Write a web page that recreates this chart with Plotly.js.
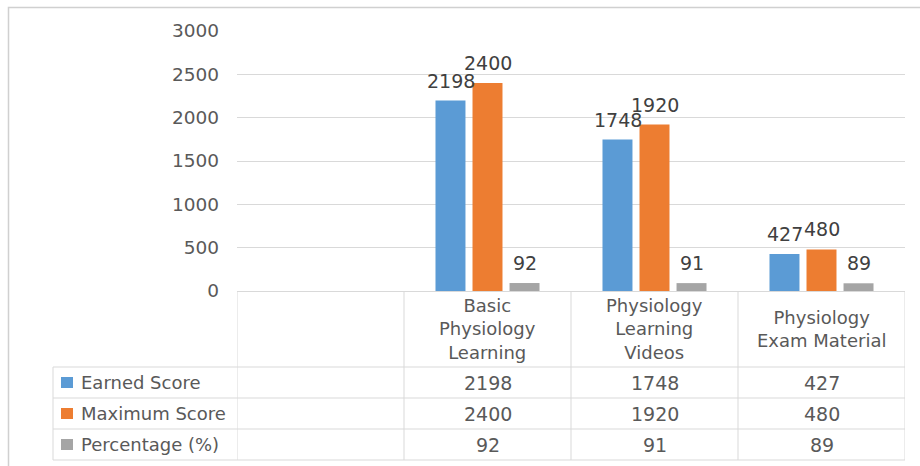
<!DOCTYPE html>
<html>
<head>
<meta charset="utf-8">
<script src="https://cdn.plot.ly/plotly-3.0.1.min.js"></script>
<style>html,body{margin:0;padding:0;background:#fff;}#chart{width:920px;height:466px;}</style>
</head>
<body>
<div id="chart"></div>
<script>
const categories = ["Basic Physiology Learning", "Physiology Learning Videos", "Physiology Exam Material"];
const categoryLabels = ["Basic<br>Physiology<br>Learning", "Physiology<br>Learning<br>Videos", "Physiology<br>Exam Material"];
const seriesNames = ["Earned Score", "Maximum Score", "Percentage (%)"];
const earned = [2198, 1748, 427];
const maximum = [2400, 1920, 480];
const percentage = [92, 91, 89];
const yTicks = [0, 500, 1000, 1500, 2000, 2500, 3000];

const seriesValues = [earned, maximum, percentage];
const colors = ["#5B9BD5", "#ED7D31", "#A5A5A5"];

// plot geometry (pixels)
const W = 920, H = 466;
const L = 237, R = 905, T = 31, B = 291;
const pw = R - L, ph = B - T;
const px = x => (x - L) / pw;
const py = y => (B - y) / ph;

const FONT = "DejaVu Sans";
const TXT = "#595959";
const LINE = "#d9d9d9";

const traces = seriesNames.map((name, i) => ({
  type: "bar",
  name: name,
  x: categories,
  y: seriesValues[i],
  marker: {color: colors[i]},
  hoverinfo: "skip"
}));

const annotations = [];
const shapes = [];
const offsets = [-37, 0, 37];

// data labels
seriesValues.forEach((vals, i) => {
  vals.forEach((v, j) => {
    annotations.push({
      x: categories[j], y: v, xref: "x", yref: "y",
      text: String(v), showarrow: false,
      xanchor: "center", yanchor: "middle",
      xshift: offsets[i], yshift: 20,
      font: {family: FONT, size: 19, color: "#404040"}
    });
  });
});

// category labels row
categories.forEach((c, j) => {
  annotations.push({
    x: c, y: py(329), xref: "x", yref: "paper",
    text: categoryLabels[j], showarrow: false,
    xanchor: "center", yanchor: "middle", align: "center",
    font: {family: FONT, size: 18, color: TXT}
  });
});

// table rows
const rowCenters = [382.5, 413.5, 444.5];
seriesNames.forEach((name, i) => {
  annotations.push({
    x: px(79), y: py(rowCenters[i]), xref: "paper", yref: "paper",
    text: name, showarrow: false, xanchor: "left", yanchor: "middle",
    font: {family: FONT, size: 18, color: TXT}
  });
  shapes.push({
    type: "rect", xref: "paper", yref: "paper",
    x0: px(61), x1: px(73), y0: py(rowCenters[i] - 5.5), y1: py(rowCenters[i] + 5.5),
    fillcolor: colors[i], line: {width: 0}
  });
  seriesValues[i].forEach((v, j) => {
    annotations.push({
      x: categories[j], y: py(rowCenters[i]), xref: "x", yref: "paper",
      text: String(v), showarrow: false, xanchor: "center", yanchor: "middle",
      font: {family: FONT, size: 19, color: TXT}
    });
  });
});

// table lines
[367, 398, 429, 460].forEach(yy => {
  shapes.push({type: "line", xref: "paper", yref: "paper",
    x0: px(53), x1: px(905), y0: py(yy), y1: py(yy), line: {color: LINE, width: 1}});
});
shapes.push({type: "line", xref: "paper", yref: "paper",
  x0: px(53), x1: px(53), y0: py(367), y1: py(460), line: {color: LINE, width: 1}});
[-1.5, -0.5, 0.5, 1.5, 2.5].forEach(b => {
  shapes.push({type: "line", xref: "x", yref: "paper",
    x0: b, x1: b, y0: 0, y1: py(460), line: {color: LINE, width: 1}});
});
// outer frame (top & left visible)
shapes.push({type: "path", xref: "paper", yref: "paper",
  path: `M ${px(8.5)} ${py(470)} L ${px(8.5)} ${py(7.5)} L ${px(925)} ${py(7.5)}`,
  line: {color: "#d0d0d0", width: 1.5}});

const layout = {
  width: W, height: H,
  margin: {l: L, r: W - R, t: T, b: H - B, pad: 0},
  paper_bgcolor: "#ffffff", plot_bgcolor: "#ffffff",
  showlegend: false, hovermode: false,
  barmode: "group", bargap: 0.335, bargroupgap: 0.19,
  xaxis: {
    type: "category", range: [-1.5, 2.5], fixedrange: true,
    showticklabels: false, ticks: "", showgrid: false, zeroline: false,
    showline: true, linecolor: LINE, linewidth: 1
  },
  yaxis: {
    range: [0, 3000], tickvals: yTicks, ticktext: yTicks.map(String), fixedrange: true,
    showgrid: true, gridcolor: LINE, gridwidth: 1, zeroline: false, showline: false,
    ticks: "", ticklabelstandoff: 17,
    tickfont: {family: FONT, size: 18.5, color: TXT}
  },
  annotations: annotations,
  shapes: shapes
};

Plotly.newPlot("chart", traces, layout, {displayModeBar: false, staticPlot: true});
</script>
</body>
</html>
